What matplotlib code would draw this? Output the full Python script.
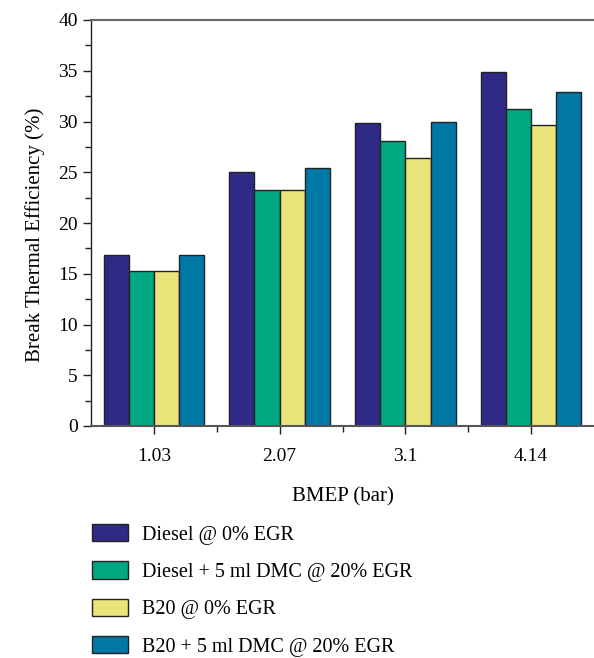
import matplotlib
matplotlib.use("Agg")
import matplotlib.pyplot as plt
import numpy as np
from matplotlib.ticker import MultipleLocator, FixedLocator

categories = ["1.03", "2.07", "3.1", "4.14"]
series_names = ["Diesel @ 0% EGR", "Diesel + 5 ml DMC @ 20% EGR",
                "B20 @ 0% EGR", "B20 + 5 ml DMC @ 20% EGR"]
diesel = [16.8, 25.05, 29.9, 34.9]
diesel_dmc = [15.25, 23.25, 28.1, 31.25]
b20 = [15.25, 23.25, 26.4, 29.7]
b20_dmc = [16.8, 25.4, 29.95, 32.9]
colors = ["#2E2A86", "#00A882", "#E8E47A", "#0078A6"]

plt.rcParams['font.family'] = ['Liberation Serif', 'DejaVu Serif']

fig = plt.figure(figsize=(5.94, 6.58), dpi=100)
ax = fig.add_axes([91/594, (658-426)/658, 503/594, 406/658])

x = np.arange(len(categories))
w = 0.2
handles = []
for i, (vals, c, name) in enumerate(zip([diesel, diesel_dmc, b20, b20_dmc], colors, series_names)):
    b = ax.bar(x + (i - 1.5) * w, vals, width=w, color=c, edgecolor="#222222",
               linewidth=1.0, label=name)
    handles.append(b)

ax.set_xlim(-0.5, 3.5)
ax.set_ylim(0, 40)
ax.set_xticks(x)
ax.set_xticklabels(categories)
ax.xaxis.set_minor_locator(FixedLocator([0.5, 1.5, 2.5]))
ax.yaxis.set_major_locator(MultipleLocator(5))
ax.yaxis.set_minor_locator(MultipleLocator(2.5))
ax.tick_params(axis='both', which='major', direction='out', length=6, width=1,
               labelsize=14, color="#222222")
ax.tick_params(axis='both', which='minor', direction='out', length=4, width=1, color="#222222")
ax.tick_params(axis='x', which='major', pad=10)

ax.spines['right'].set_visible(False)
ax.spines['top'].set_color("#666666")
ax.spines['top'].set_linewidth(1.5)
ax.spines['bottom'].set_color("#555555")
ax.spines['bottom'].set_linewidth(1.5)
ax.spines['left'].set_color("#222222")
ax.spines['left'].set_linewidth(1.0)

ax.set_xlabel("BMEP (bar)", fontsize=15, labelpad=16)
ax.set_ylabel("Break Thermal Efficiency (%)", fontsize=15)
ax.yaxis.set_label_coords(-0.091, 0.47)

leg = fig.legend(handles=handles, labels=series_names, loc="upper left",
                 bbox_to_anchor=(74/594, 1 - 506/658), frameon=False,
                 fontsize=14.5, handlelength=1.8, handleheight=0.95,
                 labelspacing=0.83, handletextpad=0.7, borderpad=0.4)

fig.savefig("out.png", dpi=100)
